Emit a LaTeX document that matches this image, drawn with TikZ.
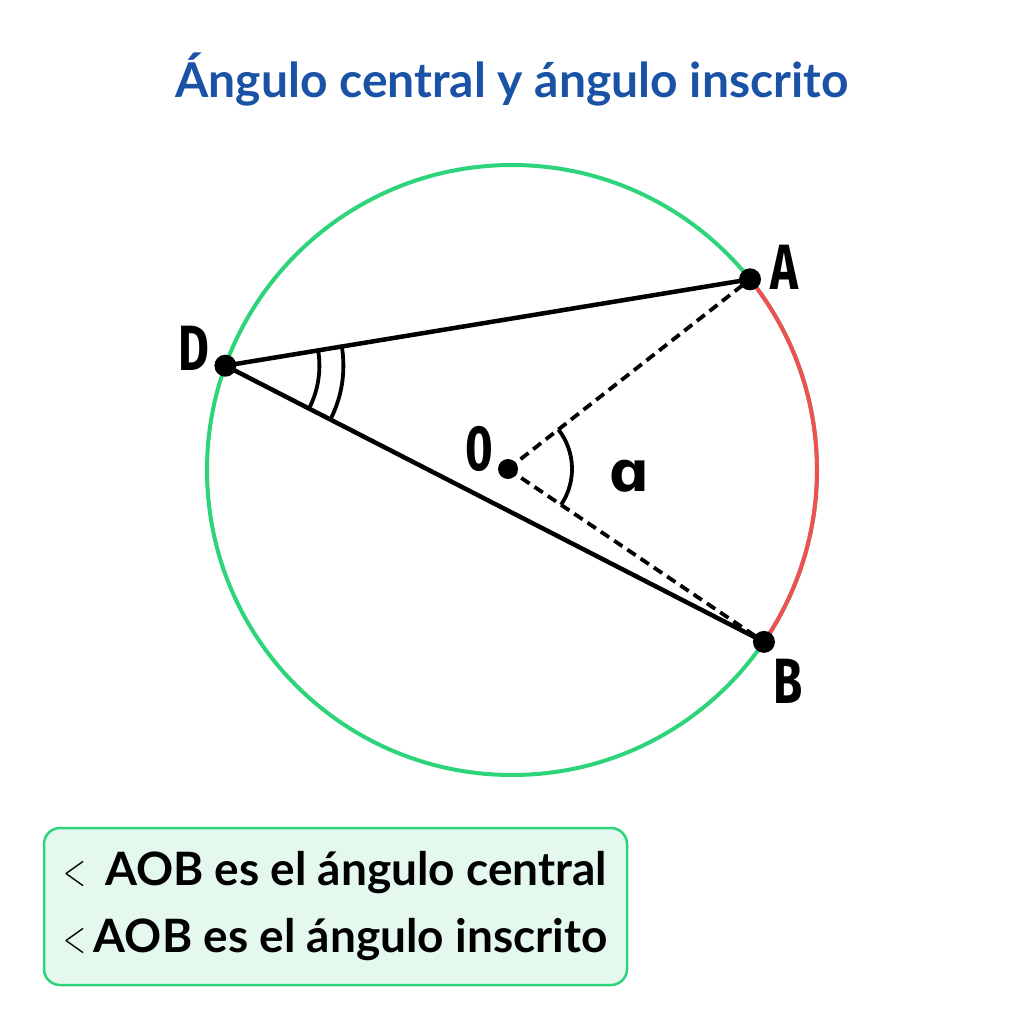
\documentclass[tikz,border=0pt]{standalone}
\usepackage{fontspec}
\setmainfont{Lato}
\newfontfamily\labelfont{Fira Sans}
\newfontfamily\greekfont{DejaVu Sans}
\newfontfamily\lmfont{Latin Modern Roman}
\usetikzlibrary{positioning, angles}
\definecolor{titleblue}{HTML}{1A52A5}
\definecolor{circgreen}{HTML}{2ED47A}
\definecolor{arcred}{HTML}{F05050}
\definecolor{notefill}{HTML}{E4F8EE}
\tikzset{
x=1pt, y=1pt, % one unit is one pixel of the picture
circ/.style={draw=circgreen, line width=4pt}, % the circle
redarc/.style={draw=arcred, line width=4pt}, % the arc AB
chord/.style={line width=4.5pt}, % the inscribed angle
radial/.style={line width=3.8pt, dash pattern=on 10pt off 6pt}, % OA and OB
pt/.style={circle, fill=black, inner sep=0pt, minimum size=22pt},
ptlabel/.style={font=\labelfont\bfseries\fontsize{64}{64}\selectfont, inner sep=0pt},
anglemark/.style={draw, line width=3.8pt},
notebox/.style={draw=circgreen, fill=notefill, line width=2.5pt, rounded corners=16pt,
  minimum width=583pt, minimum height=157pt, align=left,
  font=\bfseries\fontsize{46}{67}\selectfont},
}
\newcommand{\narrow}[1]{\scalebox{0.74}[1]{#1}}
\newcommand{\lessmark}{{\lmfont\mdseries\scalebox{0.65}[1]{<}}}

\begin{document}
\begin{tikzpicture}
  \useasboundingbox[fill=white] (0,0) rectangle (1024,-1024);

  \node[font=\bfseries\fontsize{48}{48}\selectfont, text=titleblue, anchor=base] (title) at (512,-98) {Ángulo central y ángulo inscrito};

  % circle and its points
  \coordinate (C) at (512,-470);
  \coordinate (O) at (508,-469);
  \coordinate (A) at ([shift={(38.7:305pt)}]C);
  \coordinate (B) at ([shift={(-34.3:305pt)}]C);
  \coordinate (D) at ([shift={(160:305pt)}]C);

  \draw[circ] (C) circle (305pt);
  \draw[redarc] (B) arc[start angle=-34.3, end angle=38.7, radius=305pt];

  \draw[radial] (O) -- (A);
  \draw[radial] (O) -- (B);
  \draw[chord] (A) -- (D) -- (B);

  % angle marks
  \pic[anglemark, angle radius=94pt] {angle = B--D--A};
  \pic[anglemark, angle radius=118pt] {angle = B--D--A};
  \pic[anglemark, angle radius=64pt] {angle = B--O--A};

  \node[pt] (dotA) at (A) {};
  \node[pt] (dotB) at (B) {};
  \node[pt] (dotD) at (D) {};
  \node[pt, minimum size=20pt] (dotO) at (O) {};

  \node[ptlabel, right=20pt of A, yshift=12pt] (labA) {\narrow{A}};
  \node[ptlabel, below right=17pt and 9pt of B] (labB) {\narrow{B}};
  \node[ptlabel, left=16pt of D, yshift=17pt] (labD) {\narrow{D}};
  \node[ptlabel, left=15pt of O, yshift=20pt] (labO) {\narrow{0}};
  \node[font=\greekfont\bfseries\fontsize{56}{56}\selectfont, inner sep=0pt] (alpha) at (630,-476) {ɑ};

  \node[notebox] (note) at (335.5,-906.5) {\lessmark\ \,AOB es el ángulo central\\\lessmark\,AOB es el ángulo inscrito};
\end{tikzpicture}
\end{document}
